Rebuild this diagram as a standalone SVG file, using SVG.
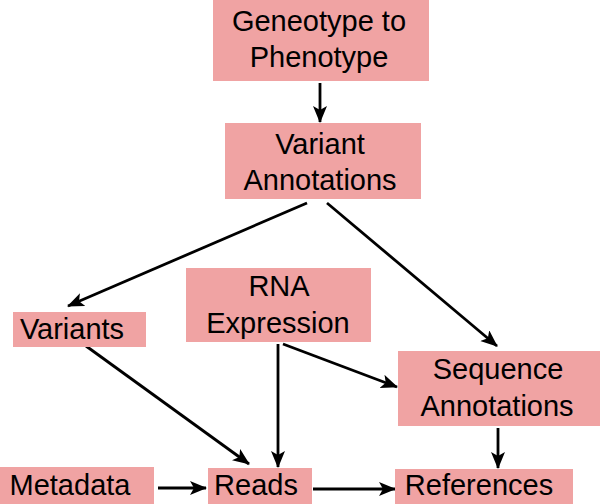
<svg xmlns="http://www.w3.org/2000/svg" width="600" height="504" viewBox="0 0 600 504">
<style>
.box{fill:#f0a3a3;stroke:none}
.t{font-family:"Liberation Sans",Arial,sans-serif;font-size:29px;fill:#000;text-anchor:middle}
.c{stroke:#000;stroke-width:2.8;fill:none;marker-end:url(#ah)}
</style>
<defs>
<marker id="ah" markerUnits="userSpaceOnUse" markerWidth="18" markerHeight="15" refX="16" refY="7" orient="auto">
<path d="M0,0 L17,7 L0,14 L4,7 z" fill="#000"/>
</marker>
</defs>
<rect width="600" height="504" fill="#fff"/>
<g id="connectors">
<line class="c" x1="320" y1="83" x2="320" y2="122"/>
<line class="c" x1="307" y1="203" x2="68" y2="306"/>
<line class="c" x1="327" y1="203" x2="497" y2="346"/>
<line class="c" x1="283" y1="344" x2="397" y2="387"/>
<line class="c" x1="278" y1="344" x2="278" y2="467"/>
<line class="c" x1="86" y1="346" x2="249" y2="464"/>
<line class="c" x1="158" y1="488" x2="206" y2="488"/>
<line class="c" x1="313" y1="489" x2="395" y2="489"/>
<line class="c" x1="498" y1="428" x2="498" y2="468"/>
</g>
<g id="genotype-phenotype">
<rect class="box" x="213" y="0" width="216" height="81"/>
<text class="t" x="319" y="31">Geneotype to</text>
<text class="t" x="319" y="67">Phenotype</text>
</g>
<g id="variant-annotations">
<rect class="box" x="225" y="123" width="196" height="76"/>
<text class="t" x="320" y="154">Variant</text>
<text class="t" x="320" y="190">Annotations</text>
</g>
<g id="variants">
<rect class="box" x="13" y="312" width="133" height="35"/>
<text class="t" x="72" y="339">Variants</text>
</g>
<g id="rna-expression">
<rect class="box" x="186" y="268" width="185" height="74"/>
<text class="t" x="279" y="296">RNA</text>
<text class="t" x="278" y="333">Expression</text>
</g>
<g id="sequence-annotations">
<rect class="box" x="398" y="351" width="202" height="75"/>
<text class="t" x="498" y="379">Sequence</text>
<text class="t" x="497" y="416">Annotations</text>
</g>
<g id="metadata">
<rect class="box" x="0" y="467" width="154" height="37"/>
<text class="t" x="70" y="495">Metadata</text>
</g>
<g id="reads">
<rect class="box" x="208" y="468" width="104" height="36"/>
<text class="t" x="256" y="495">Reads</text>
</g>
<g id="references">
<rect class="box" x="395" y="469" width="178" height="35"/>
<text class="t" x="479" y="495">References</text>
</g>
</svg>
